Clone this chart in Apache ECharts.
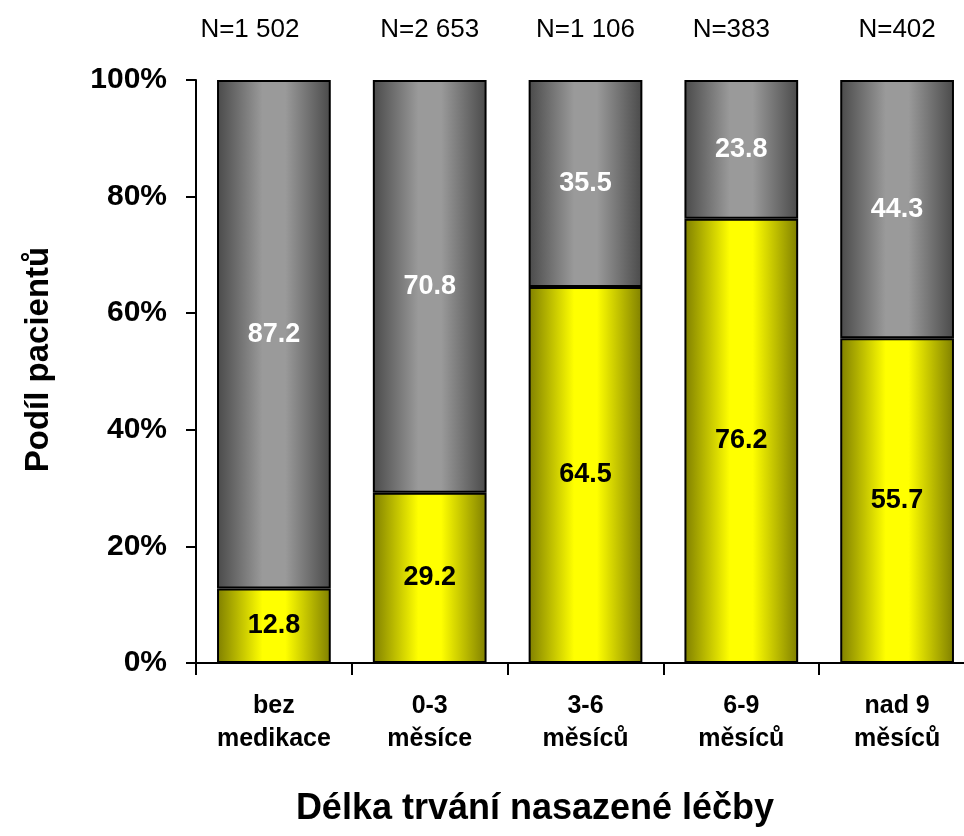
<!DOCTYPE html>
<html><head><meta charset="utf-8">
<script src="https://cdn.jsdelivr.net/npm/echarts@6/dist/echarts.min.js"></script>
<style>html,body{margin:0;padding:0;background:#fff;overflow:hidden}#c{width:980px;height:836px}</style>
</head><body><div id="c"></div>
<script>
var categories = ['bez\nmedikace', '0-3\nměsíce', '3-6\nměsíců', '6-9\nměsíců', 'nad 9\nměsíců'];
var nLabels = ['N=1 502', 'N=2 653', 'N=1 106', 'N=383', 'N=402'];
var yellowValues = [12.8, 29.2, 64.5, 76.2, 55.7];
var grayValues = [87.2, 70.8, 35.5, 23.8, 44.3];

var font = '"Liberation Sans", Arial, sans-serif';
var chart = echarts.init(document.getElementById('c'));
function grad(edge, mid) {
  return new echarts.graphic.LinearGradient(0, 0, 1, 0, [
    {offset: 0, color: edge},
    {offset: 0.4, color: mid},
    {offset: 0.6, color: mid},
    {offset: 1, color: edge}
  ]);
}
var nShift = [48, 0, 0, 20, 0];
chart.setOption({
  animation: false,
  grid: {left: 196, width: 779, top: 80, height: 583},
  xAxis: [{
    type: 'category', data: categories,
    axisLine: {lineStyle: {color: '#000', width: 2}},
    axisTick: {show: true, length: 12, lineStyle: {color: '#000', width: 2}},
    axisLabel: {color: '#000', fontFamily: font, fontWeight: 'bold', fontSize: 25, lineHeight: 33, margin: 27},
    name: 'Délka trvání nasazené léčby', nameLocation: 'middle', nameGap: 128,
    nameTextStyle: {color: '#000', fontFamily: font, fontWeight: 'bold', fontSize: 36, padding: [0, 101, 0, 0]}
  }, {
    type: 'category', position: 'top', offset: 29,
    data: nLabels.map(function(t, i){ return {value: t, textStyle: {padding: [0, nShift[i], 0, 0]}}; }),
    axisLine: {show: false}, axisTick: {show: false},
    axisLabel: {color: '#000', fontFamily: font, fontSize: 26}
  }],
  yAxis: {
    type: 'value', min: 0, max: 100, interval: 20,
    axisLine: {show: true, lineStyle: {color: '#000', width: 2}},
    axisTick: {show: true, length: 10, lineStyle: {color: '#000', width: 2}},
    splitLine: {show: false},
    axisLabel: {color: '#000', fontFamily: font, fontWeight: 'bold', fontSize: 30, margin: 29, formatter: '{value}%'},
    name: 'Podíl pacientů', nameLocation: 'middle', nameGap: 141,
    nameTextStyle: {color: '#000', fontFamily: font, fontWeight: 'bold', fontSize: 33, padding: [0, 0, 0, 24]}
  },
  series: [{
    type: 'bar', stack: 's', data: yellowValues, barWidth: '73%',
    itemStyle: {color: grad('#7f7f00', '#ffff00'), borderColor: '#000', borderWidth: 2},
    label: {show: true, position: 'inside', color: '#000', fontFamily: font, fontWeight: 'bold', fontSize: 27, formatter: function(p){return p.value.toFixed(1);}}
  }, {
    type: 'bar', stack: 's', data: grayValues,
    itemStyle: {color: grad('#4a4a4a', '#9a9a9a'), borderColor: '#000', borderWidth: 2},
    label: {show: true, position: 'inside', color: '#fff', fontFamily: font, fontWeight: 'bold', fontSize: 27, formatter: function(p){return p.value.toFixed(1);}}
  }]
});
</script></body></html>
